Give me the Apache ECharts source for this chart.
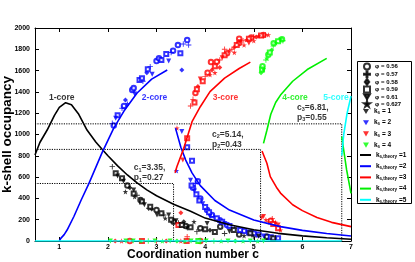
<!DOCTYPE html>
<html><head><meta charset="utf-8">
<script src="https://cdn.jsdelivr.net/npm/echarts@6/dist/echarts.min.js"></script>
<style>html,body{margin:0;padding:0;background:#fff}#c{width:415px;height:262px}</style>
</head><body><div id="c"></div>
<script>
const FONT = 'Liberation Sans';
const xTicks = [1, 2, 3, 4, 5, 6, 7];

// theory curves [c, occupancy]
const theoryK1 = [[0.5,808],[0.6,925],[0.75,1042],[0.9,1180],[1.0,1255],[1.13,1299],[1.25,1280],[1.4,1190],[1.57,1042],[1.75,930],[1.88,861],[2.0,800],[2.2,705],[2.4,620],[2.6,545],[2.8,480],[3.0,425],[3.35,345],[3.7,280],[4.0,215],[4.5,152],[5.0,105],[5.5,72],[6.0,48],[6.5,30],[7.0,16]];
const theoryK2Rise = [[1.0,0],[1.03,25],[1.1,60],[1.16,103],[1.3,230],[1.45,385],[1.61,541],[1.88,830],[2.12,1060],[2.33,1220],[2.6,1390],[2.9,1520],[3.22,1606]];
const theoryK2Fall = [[3.39,1060],[3.5,880],[3.6,760],[3.73,640],[3.9,520],[4.2,380],[4.5,290],[5.0,197],[5.55,135],[6.0,100],[6.5,70],[7.0,47]];
const theoryK3Rise = [[3.38,640],[3.42,700],[3.56,870],[3.73,1120],[3.9,1261],[4.1,1402],[4.4,1530],[4.7,1620],[4.93,1680]];
const theoryK3Fall = [[5.17,845],[5.2,810],[5.27,730],[5.34,604],[5.48,495],[5.55,450],[5.8,340],[6.0,285],[6.3,220],[6.6,175],[7.0,135]];
const theoryK4Rise = [[5.2,917],[5.27,1040],[5.35,1190],[5.45,1300],[5.55,1370],[5.8,1500],[6.1,1610],[6.5,1715]];
const theoryK4Fall = [[6.81,980],[6.84,885],[6.91,667],[7.0,448]];
const theoryK5Zero = [[0.5,0],[6.81,0]];
const theoryK5Rise = [[6.81,800],[6.85,1000],[6.92,1200],[7.0,1360]];

// transitions
const transC = [3.35, 5.14, 6.81];
const transH = [540, 860, 1100];
const transP = ['0.27', '0.43', '0.55'];
const transLabelPos = [[2.53,638],[4.14,953],[5.89,1204]];

const coreNames = ['1-core','2-core','3-core','4-core','5-core'];
const coreLabelPos = [[1.05,1343],[2.96,1343],[4.42,1343],[5.85,1343],[6.69,1343]];

// measured points [c, occupancy, k_s]
const phi056 = [[2.12,1085,2],[2.33,1268,2],[2.5,1418,2],[2.53,1436,2],[3.0,1690,2],[3.05,1715,2],[3.34,1787,2],[3.44,1840,2],[3.63,1887,2],
 [3.75,500,2],[3.9,400,2],[4.04,291,2],[4.14,244,2],[4.3,195,2],[4.45,150,2],[4.8,95,2],[5.0,72,2],[5.27,40,2],[3.85,560,2],
 [3.8,1390,3],[4.05,1580,3],[4.24,1684,3],[4.45,1762,3],[4.7,1860,3],[4.95,1910,3],[5.2,1935,3],[4.12,1680,3],[4.7,1900,3],[5.35,190,3],[2.45,0,3],[3.9,0,3],
 [5.18,1640,4],[5.3,1750,4],[5.41,1856,4],[5.58,1895,4],
 [2.4,520,1],[2.67,385,1],[3.0,291,1],[3.35,181,1],[3.6,140,1],[3.9,120,1],[4.31,134,1],[4.7,60,1],[5.27,40,1]];
const phi057 = [[2.09,1105,2],[2.29,1246,2],[2.72,1500,2],[2.87,1637,2],[3.3,1770,2],[3.55,1850,2],[3.66,1840,2],
 [3.8,540,2],[4.18,230,2],[4.6,120,2],[5.45,28,2],
 [3.7,1268,3],[4.0,1543,3],[4.3,1700,3],[4.55,1800,3],[4.78,1880,3],[5.0,1918,3],[5.24,1934,3],[3.75,1330,3],[4.4,1800,3],[3.63,40,3],[5.3,180,3],[5.38,210,3],[3.0,0,3],
 [5.25,1700,4],[5.4,1830,4],[5.6,1880,4],[2.83,0,4],[4.18,0,4],
 [2.09,698,1],[2.6,430,1],[2.84,307,1],[3.15,244,1],[3.45,170,1],[3.83,88,1],[4.4,70,1],[5.0,40,1]];
const phi058 = [[2.36,1324,2],[3.52,1606,2],[2.8,1580,2],
 [3.85,1450,3],[4.14,1606,3],[4.6,1820,3],[5.05,1915,3],[4.3,1630,3],[3.5,265,3],[2.15,0,3],[3.2,0,3],
 [5.15,1580,4],[5.37,1793,4],[3.42,0,4],[4.62,0,4],
 [2.45,500,1],[2.9,300,1],[3.56,181,1],[4.1,100,1]];
const phi059 = [[2.2,1180,2],[2.65,1512,2],[2.7,1527,2],[2.82,1612,2],[3.1,1700,2],[3.2,1756,2],[3.49,1762,2],
 [3.63,880,2],[3.73,754,2],[3.72,520,2],[3.82,440,2],[3.88,380,2],[4.0,320,2],[4.08,270,2],[4.24,213,2],[4.35,181,2],[4.5,140,2],[4.72,103,2],[4.9,80,2],[5.1,60,2],[5.35,35,2],[5.5,25,2],
 [3.83,1424,3],[3.95,1500,3],[4.2,1640,3],[4.4,1745,3],[4.65,1840,3],[4.9,1900,3],[5.15,1930,3],[3.78,1300,3],[3.63,964,3],[3.45,150,3],[5.4,160,3],[5.5,120,3],[2.7,0,3],[3.62,0,3],
 [5.17,1610,4],[5.33,1770,4],[5.5,1875,4],[3.86,0,4],
 [2.16,636,1],[2.29,589,1],[2.53,447,1],[2.7,370,1],[2.87,322,1],[3.1,260,1],[3.3,200,1],[3.52,150,1],[3.7,130,1],[4.0,110,1],[4.2,85,1],[4.59,103,1],[4.93,72,1],[5.4,25,1]];
const phi061 = [[2.16,1152,2],[2.55,1380,2],[2.91,1565,2],[3.25,1690,2],
 [3.52,1027,2],[3.7,570,2],[3.78,470,2],[3.95,350,2],[4.4,165,2],[5.2,48,2],[4.1,230,2],
 [3.9,1521,3],[4.35,1720,3],[4.72,1871,3],[4.9,1860,3],[3.54,761,3],[5.16,216,3],[5.2,230,3],[5.5,150,3],
 [5.2,1600,4],[5.55,1887,4],[2.05,0,4],[2.37,0,4],[2.52,0,4],[2.97,0,4],[3.28,0,4],[3.71,0,4],[4.02,0,4],[4.47,0,4],[4.93,0,4],[5.2,0,4],
 [2.2,610,1],[2.32,560,1],[2.53,479,1],[2.75,340,1],[3.01,244,1],[3.25,244,1],[3.4,190,1],[3.63,119,1],[4.04,165,1],[4.5,90,1],[5.1,45,1]];
const phi0627 = [[2.4,1290,2],[3.41,660,2],
 [4.1,1560,3],[4.5,1790,3],[4.85,1890,3],[5.1,1925,3],[5.3,1935,3],[4.2,1580,3],[3.42,1060,3],[4.6,1770,3],[4.8,1840,3],[5.0,1880,3],[5.25,200,3],[5.45,175,3],[5.55,103,3],[2.28,0,3],[3.5,0,3],
 [5.27,1715,4],[5.45,1860,4],[2.68,0,4],[3.12,0,4],[3.58,0,4],[4.33,0,4],[4.78,0,4],[5.08,0,4],
 [2.36,463,1],[2.55,416,1],[3.18,213,1],[3.77,181,1],[4.8,50,1]];

const kColors = ['#000000', '#0000ff', '#ff0000', '#00ff00'];
const thColors = ['#000000', '#0000ff', '#ff0000', '#00ee00', '#00ffff'];

const SYM_PLUS = 'path://M-0.16,-1H0.16V-0.16H1V0.16H0.16V1H-0.16V0.16H-1V-0.16H-0.16Z';
const SYM_DIAM = 'path://M0,-1L0.75,0L0,1L-0.75,0Z';
const SYM_DOWN = 'path://M-1,-0.85L1,-0.85L0,0.85Z';
const SYM_STAR = 'path://M0,-1L0.2245,-0.309L0.951,-0.309L0.363,0.118L0.588,0.809L0,0.382L-0.588,0.809L-0.363,0.118L-0.951,-0.309L-0.2245,-0.309Z';

const phiSets = [
  { name: 'φ = 0.56', data: phi056, symbol: 'emptyCircle', size: 4.5 },
  { name: 'φ = 0.57', data: phi057, symbol: SYM_PLUS, size: 5.5 },
  { name: 'φ = 0.58', data: phi058, symbol: SYM_DIAM, size: 5 },
  { name: 'φ = 0.59', data: phi059, symbol: 'emptyRect', size: 4 },
  { name: 'φ = 0.61', data: phi061, symbol: SYM_DOWN, size: 5 },
  { name: 'φ = 0.627', data: phi0627, symbol: SYM_STAR, size: 5.5 }
];

const series = [];
phiSets.forEach(p => {
  series.push({
    type: 'scatter', name: p.name, data: p.data, symbol: p.symbol, symbolSize: p.size,
    itemStyle: { color: prm => kColors[prm.data[2] - 1], borderWidth: 0.8 },
    z: 2, silent: true
  });
});
['k_s = 1', 'k_s = 2', 'k_s = 3', 'k_s = 4'].forEach((n, i) => {
  series.push({ type: 'scatter', name: n, data: [], symbol: SYM_DOWN, itemStyle: { color: kColors[i] } });
});
// dotted transition guides
transC.forEach((c, i) => {
  series.push({
    type: 'line', name: 'guide' + i, data: [[0.5, transH[i]], [c, transH[i]], [c, 0]],
    symbol: 'none', lineStyle: { color: '#000', width: 1, type: [1.2, 1.2] }, z: 3, silent: true
  });
});
const theorySegs = [
  [theoryK1, 0], [theoryK2Rise, 1], [theoryK2Fall, 1], [theoryK3Rise, 2], [theoryK3Fall, 2],
  [theoryK4Rise, 3], [theoryK4Fall, 3], [theoryK5Zero, 4], [theoryK5Rise, 4]
];
theorySegs.forEach(([d, k]) => {
  series.push({
    type: 'line', name: 'k_s,theory =' + (k + 1), data: d, symbol: 'none',
    lineStyle: { color: thColors[k], width: 1.6 }, itemStyle: { color: thColors[k] }, z: 4, silent: true
  });
});
// annotations
series.push({
  type: 'scatter', name: 'coreLabels', symbolSize: 0, z: 6, silent: true,
  data: coreLabelPos.map((p, i) => ({ value: p, label: { formatter: coreNames[i], color: thColors[i] } })),
  label: { show: true, position: 'inside', fontFamily: FONT, fontSize: 8.5, fontWeight: 'bold' }
});
series.push({
  type: 'scatter', name: 'transLabels', symbolSize: 0, z: 6, silent: true,
  data: transLabelPos.map((p, i) => ({ value: p, label: {
    formatter: '{t|c}{s|' + (i + 1) + '}{t|=' + transC[i].toFixed(2) + ',}\n{t|p}{s|' + (i + 1) + '}{t|=' + transP[i] + '}'
  } })),
  label: { show: true, position: 'right', distance: 0, color: '#000',
    rich: {
      t: { fontFamily: FONT, fontSize: 8.5, fontWeight: 'bold', color: '#000', lineHeight: 10 },
      s: { fontFamily: FONT, fontSize: 5.5, fontWeight: 'bold', color: '#000', lineHeight: 6, padding: [4, 0, 0, 0] }
    } }
});

const legendRich = {
  n: { fontFamily: FONT, fontSize: 6.5, fontWeight: 'bold', color: '#000' },
  s: { fontFamily: FONT, fontSize: 4.5, fontWeight: 'bold', color: '#000', padding: [3, 0, 0, 0] }
};
const subFmt = name => {
  const m = name.match(/^k_(s(?:,theory)?) (=.*)$/);
  return '{n|k}{s|' + m[1] + '}{n| ' + m[2] + '}';
};

const axisCommon = {
  type: 'value', min: 0.5, max: 7,
  axisLine: { show: true, onZero: false, lineStyle: { color: '#000', width: 1 } },
  axisTick: { show: true, inside: true, length: 4, customValues: xTicks, lineStyle: { color: '#000' } },
  splitLine: { show: false }
};
const yCommon = {
  type: 'value', min: 0, max: 2000, interval: 200,
  axisLine: { show: true, onZero: false, lineStyle: { color: '#000', width: 1 } },
  axisTick: { show: true, inside: true, length: 4, lineStyle: { color: '#000' } },
  splitLine: { show: false }
};

const chart = echarts.init(document.getElementById('c'));
chart.setOption({
  animation: false,
  backgroundColor: '#fff',
  textStyle: { fontFamily: FONT },
  grid: { left: 35, right: 64, top: 28, bottom: 21, containLabel: false, outerBoundsMode: 'none' },
  xAxis: [
    Object.assign({}, axisCommon, {
      position: 'bottom', name: 'Coordination number c', nameLocation: 'middle', nameGap: 8, nameMoveOverlap: false,
      nameTextStyle: { fontFamily: FONT, fontSize: 12, fontWeight: 'bold', color: '#000' },
      axisLabel: { customValues: xTicks, fontFamily: FONT, fontSize: 7, fontWeight: 'bold', color: '#000', margin: 3 }
    }),
    Object.assign({}, axisCommon, { position: 'top', axisLabel: { show: false } })
  ],
  yAxis: [
    Object.assign({}, yCommon, {
      position: 'left', name: 'k-shell occupancy', nameLocation: 'middle', nameGap: 21, nameMoveOverlap: false,
      nameTextStyle: { fontFamily: FONT, fontSize: 13.5, fontWeight: 'bold', color: '#000' },
      axisLabel: { fontFamily: FONT, fontSize: 7, fontWeight: 'bold', color: '#000', margin: 5, formatter: v => String(v) }
    }),
    Object.assign({}, yCommon, { position: 'right', axisLabel: { show: false } })
  ],
  graphic: [{ type: 'rect', left: 357, top: 61, z: 1,
    shape: { width: 54, height: 142 }, style: { fill: '#fff', stroke: '#000', lineWidth: 1 } }],
  legend: [
    { orient: 'vertical', left: 363, top: 62.5, padding: 0, itemWidth: 6, itemHeight: 6, itemGap: -0.3, selectedMode: false, z: 10,
      textStyle: { fontFamily: FONT, fontSize: 6, fontWeight: 'bold', color: '#000' },
      data: phiSets.map(p => ({ name: p.name, icon: p.symbol, itemStyle: { color: '#000', borderColor: '#000' } })) },
    { orient: 'vertical', left: 363, top: 108, padding: 0, itemWidth: 6, itemHeight: 6, itemGap: 3.7, selectedMode: false, z: 10,
      formatter: subFmt, textStyle: { rich: legendRich },
      data: ['k_s = 1', 'k_s = 2', 'k_s = 3', 'k_s = 4'].map(n => ({ name: n, icon: SYM_DOWN })) },
    { orient: 'vertical', left: 360, top: 151.5, padding: 0, itemWidth: 11, itemHeight: 2, itemGap: 3.7, selectedMode: false, z: 10,
      formatter: subFmt, textStyle: { rich: legendRich },
      data: ['k_s,theory =1', 'k_s,theory =2', 'k_s,theory =3', 'k_s,theory =4', 'k_s,theory =5'].map(n => ({ name: n, icon: 'rect' })) }
  ],
  series: series
});
</script></body></html>
